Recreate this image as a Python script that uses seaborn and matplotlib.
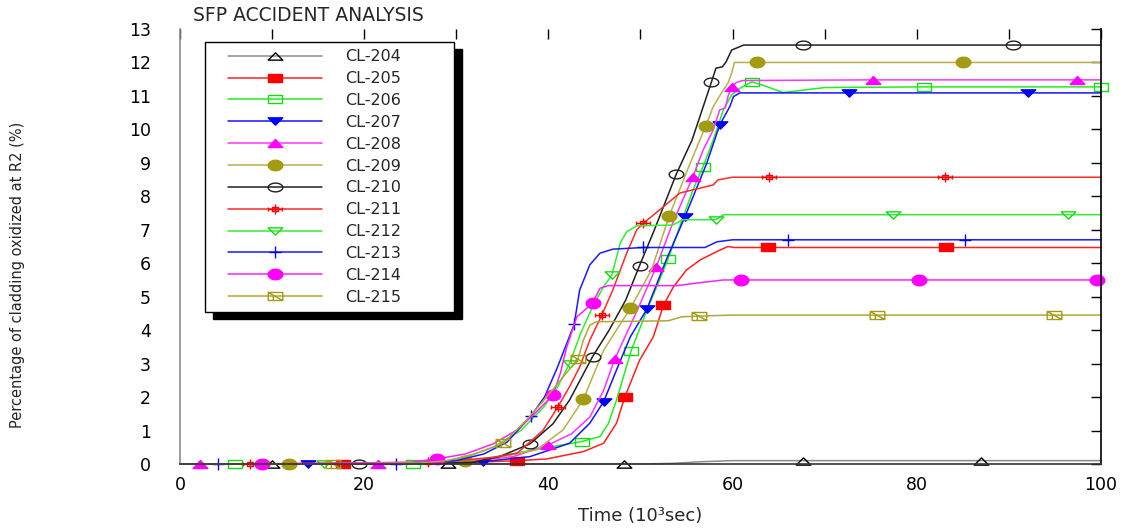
import numpy as np
import pandas as pd
import matplotlib
matplotlib.use("Agg")
import matplotlib.pyplot as plt
from matplotlib.path import Path
from matplotlib.lines import Line2D
from matplotlib.legend_handler import HandlerLine2D
from matplotlib.ticker import MultipleLocator, FuncFormatter
import seaborn as sns

# ---------------- data ----------------
labels = ["CL-204", "CL-205", "CL-206", "CL-207", "CL-208", "CL-209",
          "CL-210", "CL-211", "CL-212", "CL-213", "CL-214", "CL-215"]

t204 = [0, 10, 29.1, 48.2, 50, 53.5, 56.8, 60, 67.6, 87.0, 100]
v204 = [0, 0, 0, 0, 0.0, 0.02, 0.07, 0.1, 0.1, 0.1, 0.1]
m204 = [10, 29.1, 48.2, 67.6, 87.0]

t205 = [0, 17.7, 30, 36.6, 39.8, 43.8, 46, 47.4, 48.3, 49.9, 51.4, 52.5, 53.6, 55, 56.5, 58.3, 59.5, 60.2, 63.8, 83.2, 100]
v205 = [0, 0, 0.03, 0.1, 0.15, 0.37, 0.62, 1.22, 2.0, 3.1, 3.8, 4.75, 5.3, 5.8, 6.1, 6.35, 6.5, 6.47, 6.47, 6.47, 6.47]
m205 = [17.7, 36.6, 48.3, 52.5, 63.8, 83.2]

t206 = [0, 6.0, 25.3, 30, 34, 38, 43.6, 45.6, 46.5, 47.4, 49.0, 50.0, 51.0, 52.0, 53.0, 55.7, 56.8, 57.9, 59.0, 59.9, 60.8, 62.1, 63.5, 65.5, 67, 70, 80.8, 100]
v206 = [0, 0, 0, 0.05, 0.2, 0.4, 0.67, 0.82, 1.2, 1.91, 3.39, 4.1, 4.8, 5.45, 6.13, 8.19, 8.89, 9.68, 10.58, 11.03, 11.23, 11.42, 11.3, 11.1, 11.15, 11.25, 11.27, 11.27]
m206 = [6.0, 25.3, 43.6, 49.0, 53.0, 56.8, 62.1, 80.8, 100]

t207 = [0, 13.9, 28, 32.9, 38, 42.3, 44.5, 46.0, 47.4, 48.9, 50.7, 52.8, 54.8, 57.2, 58.6, 59.7, 60.1, 60.8, 72.6, 92.1, 100]
v207 = [0, 0, 0.03, 0.07, 0.22, 0.62, 1.22, 1.86, 2.81, 3.8, 4.63, 6.1, 7.37, 8.99, 10.13, 10.68, 10.98, 11.09, 11.09, 11.09, 11.09]
m207 = [13.9, 32.9, 46.0, 50.7, 54.8, 58.6, 72.6, 92.1]

t208 = [0, 2.2, 21.5, 28, 32, 36.2, 40.0, 42.5, 44.5, 46.0, 47.2, 49.5, 51.7, 53.5, 55.7, 56.8, 57.9, 58.6, 59.2, 59.5, 59.9, 60.4, 61.1, 75.2, 97.4, 100]
v208 = [0, 0, 0, 0.05, 0.1, 0.22, 0.57, 0.9, 1.4, 2.2, 3.13, 4.5, 5.88, 7.2, 8.59, 9.38, 9.98, 10.58, 10.64, 10.98, 11.28, 11.4, 11.46, 11.48, 11.48, 11.48]
m208 = [2.2, 21.5, 40.0, 47.2, 51.7, 55.7, 59.9, 75.2, 97.4]

t209 = [0, 11.8, 28, 31.0, 35, 38.7, 41.6, 43.8, 46, 48.9, 51.2, 53.1, 55.4, 57.1, 57.9, 59.0, 59.5, 59.9, 60.2, 62.6, 85.0, 100]
v209 = [0, 0, 0.05, 0.1, 0.22, 0.42, 1.02, 1.93, 3.4, 4.65, 5.8, 7.4, 8.99, 10.11, 10.68, 11.18, 11.38, 11.68, 12.0, 12.0, 12.0, 12.0]
m209 = [11.8, 31.0, 43.8, 48.9, 53.1, 57.1, 62.6, 85.0]

t210 = [0, 19.4, 28, 31.8, 34.7, 38.0, 40.5, 42.3, 44.8, 46.6, 48.4, 49.9, 51.5, 53.9, 55.6, 57.7, 58.2, 58.9, 59.3, 59.9, 61.2, 67.6, 90.5, 100]
v210 = [0, 0, 0.02, 0.05, 0.22, 0.6, 1.2, 1.91, 3.21, 4.0, 4.9, 5.93, 6.99, 8.67, 9.68, 11.41, 11.83, 11.87, 12.02, 12.37, 12.52, 12.52, 12.52, 12.52]
m210 = [19.4, 38.0, 44.8, 49.9, 53.9, 57.7, 67.6, 90.5]

t211 = [0, 7.6, 26.9, 31, 34, 36.6, 39.4, 41.0, 42.3, 43.4, 44.5, 45.8, 47, 48.5, 49.6, 50.3, 52.1, 54.3, 57.9, 58.4, 60, 64.0, 83.1, 100]
v211 = [0, 0, 0.05, 0.12, 0.2, 0.32, 1.0, 1.69, 2.31, 2.9, 3.7, 4.45, 5.2, 6.3, 7.0, 7.19, 7.6, 8.1, 8.34, 8.49, 8.57, 8.57, 8.57, 8.57]
m211 = [7.6, 26.9, 41.0, 45.8, 50.3, 64.0, 83.1]

t212 = [0, 15.6, 28, 31, 34, 37, 39.5, 41, 42.3, 43.5, 44.8, 46, 46.9, 47.8, 48.5, 49.6, 53.5, 54.6, 58.2, 59.0, 77.4, 96.4, 100]
v212 = [0, 0, 0.05, 0.2, 0.5, 1.0, 1.7, 2.3, 3.0, 3.9, 4.7, 5.3, 5.65, 6.6, 6.94, 7.12, 7.14, 7.3, 7.3, 7.45, 7.45, 7.45, 7.45]
m212 = [15.6, 42.3, 46.9, 58.2, 77.4, 96.4]

t213 = [0, 4.1, 23.5, 30, 33, 35.5, 38.1, 39.6, 41, 42.8, 43.4, 44.5, 45.6, 47, 50.3, 57, 58.3, 60, 66.0, 85.2, 100]
v213 = [0, 0, 0, 0.1, 0.3, 0.65, 1.43, 2.01, 2.9, 4.17, 5.2, 5.95, 6.3, 6.42, 6.47, 6.47, 6.64, 6.7, 6.7, 6.7, 6.7]
m213 = [4.1, 23.5, 38.1, 42.8, 50.3, 66.0, 85.2]

t214 = [0, 8.9, 25, 27.9, 31, 34, 36.5, 38.5, 40.5, 41.3, 42.0, 43.1, 44.8, 45.6, 46.5, 54, 56.5, 59, 60.9, 80.2, 99.6, 100]
v214 = [0, 0, 0.05, 0.15, 0.3, 0.6, 1.0, 1.5, 2.06, 2.71, 3.5, 4.4, 4.8, 5.25, 5.33, 5.33, 5.42, 5.5, 5.5, 5.5, 5.5, 5.5]
m214 = [8.9, 27.9, 40.5, 44.8, 60.9, 80.2, 99.6]

t215 = [0, 16.6, 26, 29, 32, 35.1, 37.6, 39.5, 41.6, 43.2, 43.8, 44.5, 45.2, 53, 54.5, 56.4, 60, 75.7, 94.9, 100]
v215 = [0, 0, 0.03, 0.1, 0.3, 0.62, 1.31, 1.9, 2.6, 3.13, 3.7, 4.15, 4.25, 4.28, 4.4, 4.42, 4.45, 4.45, 4.45, 4.45]
m215 = [16.6, 35.1, 43.2, 56.4, 75.7, 94.9]

title = "SFP ACCIDENT ANALYSIS"
xlabel = "Time (10\u00b3sec)"
ylabel = "Percentage of cladding oxidized at R2 (%)"

# ---------------- marker shapes ----------------
def ellipse(rx, ry, n=48):
    th = np.linspace(0, 2 * np.pi, n)
    return Path(np.column_stack([rx * np.cos(th), ry * np.sin(th)]), closed=True)

def rect(h):
    return Path([(-1, -h), (1, -h), (1, h), (-1, h), (-1, -h)], closed=True)

def tri(h, up=True):
    s = 1 if up else -1
    return Path([(-1, -s * h), (1, -s * h), (0, s * h), (-1, -s * h)], closed=True)

M, L, C = Path.MOVETO, Path.LINETO, Path.CLOSEPOLY
star_path = Path([(-0.45, -0.35), (0.45, -0.35), (0.45, 0.35), (-0.45, 0.35), (-0.45, -0.35),
                  (-1, 0), (1, 0), (0, -0.8), (0, 0.8),
                  (-1, -0.3), (-1, 0.3), (1, -0.3), (1, 0.3)],
                 [M, L, L, L, C, M, L, M, L, M, L, M, L])
box_diag = Path([(-1, -0.55), (1, -0.55), (1, 0.55), (-1, 0.55), (-1, -0.55),
                 (-1, 0.55), (1, -0.55), (-0.3, -0.55), (-0.3, 0.1)],
                [M, L, L, L, C, M, L, M, L])

olive = "#a39b12"
styles = {
    "CL-204": dict(color="#8a8a8a", mec="black", mfc="none", marker=tri(0.5, True), ms=10.5),
    "CL-205": dict(color="#ff2020", mec="#ff0000", mfc="#ff0000", marker=rect(0.55), ms=10.5),
    "CL-206": dict(color="#22ee22", mec="#11dd11", mfc="none", marker=rect(0.5), ms=10.5),
    "CL-207": dict(color="#1515ff", mec="#0000ff", mfc="#0000ff", marker=tri(0.5, False), ms=10.5),
    "CL-208": dict(color="#ff33ff", mec="#ff00ff", mfc="#ff00ff", marker=tri(0.55, True), ms=10.5),
    "CL-209": dict(color="#b8b04a", mec=olive, mfc=olive, marker=ellipse(1, 0.72), ms=10.5),
    "CL-210": dict(color="#202020", mec="#202020", mfc="none", marker=ellipse(1, 0.6), ms=10.5),
    "CL-211": dict(color="#ff2a2a", mec="#ff0000", mfc="none", marker=star_path, ms=9.5),
    "CL-212": dict(color="#33ee33", mec="#11dd11", mfc="none", marker=tri(0.5, False), ms=10.5),
    "CL-213": dict(color="#1a1aff", mec="#0000ff", mfc="none", marker="+", ms=8),
    "CL-214": dict(color="#ff22ff", mec="#ff00ff", mfc="#ff00ff", marker=ellipse(1, 0.72), ms=10.5),
    "CL-215": dict(color="#b0a838", mec=olive, mfc="none", marker=box_diag, ms=10.5),
}

series = {
    "CL-204": (t204, v204, m204), "CL-205": (t205, v205, m205), "CL-206": (t206, v206, m206),
    "CL-207": (t207, v207, m207), "CL-208": (t208, v208, m208), "CL-209": (t209, v209, m209),
    "CL-210": (t210, v210, m210), "CL-211": (t211, v211, m211), "CL-212": (t212, v212, m212),
    "CL-213": (t213, v213, m213), "CL-214": (t214, v214, m214), "CL-215": (t215, v215, m215),
}

# ---------------- figure ----------------
sns.set_style("white")
plt.rcParams["font.family"] = ["DejaVu Sans"]

fig = plt.figure(figsize=(11.39, 5.31), dpi=100)
ax = fig.add_axes([0.1580, 0.1262, 0.8086, 0.8192])

for name in labels:
    t, v, mk = series[name]
    st = styles[name]
    df = pd.DataFrame({"t": t, "v": v})
    idx = [t.index(m) for m in mk]
    sns.lineplot(data=df, x="t", y="v", ax=ax, estimator=None, sort=False,
                 color=st["color"], lw=1.1, marker=st["marker"], markersize=st["ms"],
                 markerfacecolor=st["mfc"], markeredgecolor=st["mec"], markeredgewidth=1.0,
                 markevery=idx, label=name, clip_on=False)

ax.set_xlim(0, 100)
ax.set_ylim(0, 13)
ax.xaxis.set_major_locator(MultipleLocator(10))
ax.yaxis.set_major_locator(MultipleLocator(1))
ax.xaxis.set_major_formatter(FuncFormatter(lambda v, p: f"{int(round(v))}" if int(round(v)) % 20 == 0 else ""))
ax.yaxis.set_major_formatter(FuncFormatter(lambda v, p: f"{int(round(v))}"))
ax.tick_params(axis="both", direction="in", top=True, right=True, length=7, width=1,
               labelsize=12.5, colors="black")
ax.tick_params(axis="x", pad=9)
ax.tick_params(axis="y", pad=21)
for tk in ax.yaxis.get_major_ticks():
    tk.tick1line.set_color("#8c8c8c")

ax.spines["top"].set_visible(False)
ax.spines["left"].set_color("#8c8c8c")
ax.spines["right"].set_color("black")
ax.spines["bottom"].set_color("#333333")
for s in ax.spines.values():
    s.set_linewidth(1.2)

ax.set_xlabel(xlabel, fontsize=13, va="center")
ax.xaxis.set_label_coords(0.5, -0.1195)
ax.set_ylabel(ylabel, fontsize=10.5, va="center")
ax.yaxis.set_label_coords(-0.176, 0.4345)
ax.set_title(title, loc="left", x=0.014, y=1.032, pad=0, fontsize=13.5, va="center")

handles, labs = ax.get_legend_handles_labels()
leg = ax.legend(handles, labs, loc="upper left",
                bbox_to_anchor=(0.0271, 0.3517, 0.2704, 0.6183), mode="expand",
                borderaxespad=0, fontsize=11.5, handlelength=6.9, handletextpad=1.45,
                labelspacing=0.43, borderpad=0.45, fancybox=False, frameon=True,
                edgecolor="black", framealpha=1,
                shadow={"ox": 5.5, "oy": -5, "color": "black", "alpha": 1},
                handler_map={Line2D: HandlerLine2D(numpoints=1, xpad=1.0)})
leg.get_frame().set_linewidth(1.0)

fig.savefig("out.png", dpi=100)
